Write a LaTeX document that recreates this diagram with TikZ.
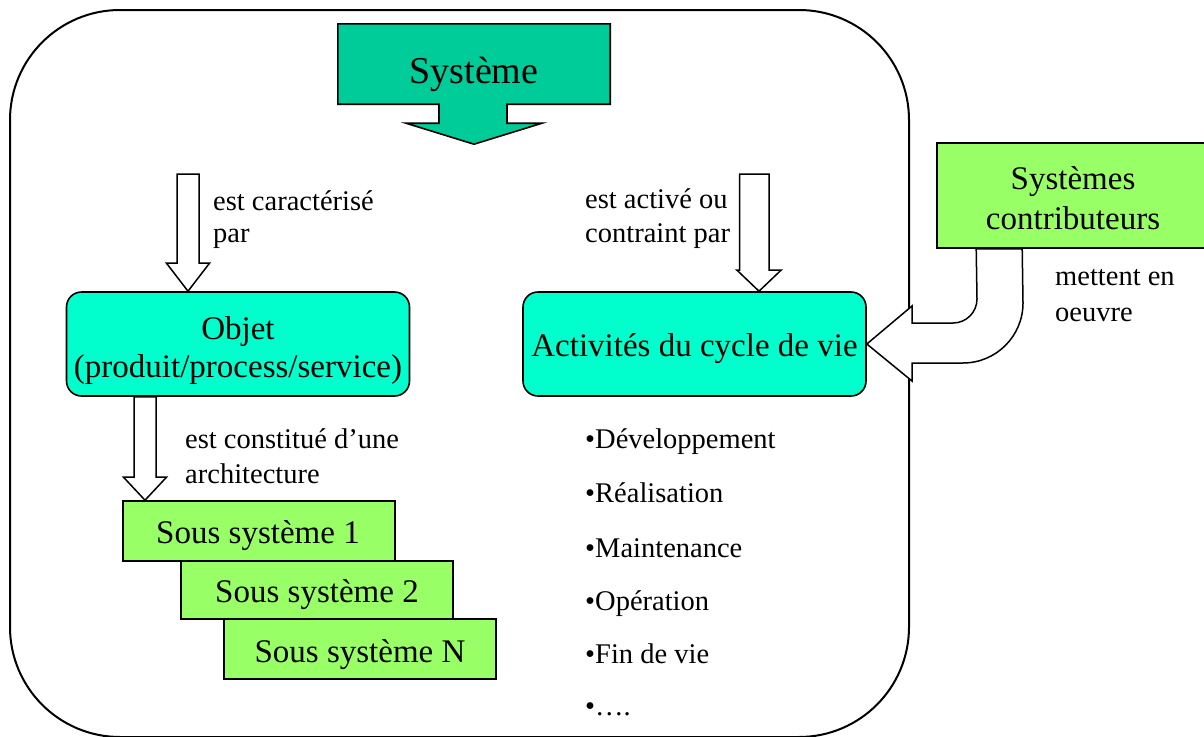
\documentclass[tikz,border=0pt]{standalone}
\usepackage{fontspec}
\setmainfont{Liberation Serif}
\usetikzlibrary{calc}
\definecolor{systeal}{RGB}{0,204,153}
\definecolor{objaqua}{RGB}{0,255,204}
\definecolor{subgreen}{RGB}{153,255,102}
\begin{document}
\begin{tikzpicture}[x=1pt,y=-1pt,
  frame/.style={draw=black, line width=2pt, rounded corners=110pt},
  boxline/.style={draw=black, line width=1.6pt},
  aquabox/.style={boxline, fill=objaqua, rounded corners=15pt, minimum width=343pt, minimum height=104pt, inner sep=0pt},
  greenbox/.style={boxline, fill=subgreen, minimum width=272pt, inner sep=0pt},
  bigtxt/.style={font=\fontsize{38}{46}\selectfont, anchor=base, inner sep=0pt},
  boxtxt/.style={font=\fontsize{33}{40}\selectfont, anchor=base, inner sep=0pt},
  lbl/.style={font=\fontsize{28.5}{34}\selectfont, anchor=base west, inner sep=0pt},
  blockarrow/.style={draw=black, line width=1.5pt, fill=white, line join=miter},
]
\useasboundingbox (0,0) rectangle (1204,736);

% outer rounded frame
\draw[frame] (10,10) rectangle (909,737);

% Système: header box merged with its downward arrow
\node[minimum width=272pt, minimum height=80pt, inner sep=0pt] (sys) at (474,64) {};
\draw[boxline, fill=systeal] (sys.south west) -- (sys.north west) -- (sys.north east) -- (sys.south east)
  -- ($(sys.south)+(33,0)$) -- ($(sys.south)+(33,19)$) -- ($(sys.south)+(68,19)$) -- ($(sys.south)+(0,40)$)
  -- ($(sys.south)+(-68,19)$) -- ($(sys.south)+(-35,19)$) -- ($(sys.south)+(-35,0)$) -- cycle;
\node[bigtxt] (systxt) at (474,83) {Système};

% main boxes
\node[aquabox] (obj) at (238,344) {};
\node[boxtxt] (objt1) at (238,339) {Objet};
\node[boxtxt] (objt2) at (238,377) {(produit/process/service)};

\node[aquabox] (act) at (694.5,344) {};
\node[boxtxt] (actt) at (694.5,356) {Activités du cycle de vie};

\node[boxline, fill=subgreen, minimum width=271pt, minimum height=105pt, inner sep=0pt] (contrib) at (1072.5,195.5) {};
\node[boxtxt] (contribt1) at (1073,189) {Systèmes};
\node[boxtxt] (contribt2) at (1073,229) {contributeurs};

% stacked sub-systems
\node[greenbox, minimum height=60pt] (ss1) at (259,531) {};
\node[boxtxt] (ss1t) at (258,543) {Sous système 1};
\node[greenbox, minimum height=58pt] (ss2) at (317,590) {};
\node[boxtxt] (ss2t) at (317,602) {Sous système 2};
\node[greenbox, minimum height=60pt] (ssN) at (360,649) {};
\node[boxtxt] (ssNt) at (360,662) {Sous système N};

% hollow arrow: Système -> Objet
\coordinate (a1top) at (188,174);
\coordinate (a1tip) at (a1top |- obj.north);
\draw[blockarrow] ($(a1top)+(-11,0)$) -- ($(a1tip)+(-11,-28)$) -- ($(a1tip)+(-21.5,-28)$) -- (a1tip)
  -- ($(a1tip)+(21.5,-28)$) -- ($(a1tip)+(11,-28)$) -- ($(a1top)+(11,0)$) -- cycle;
\node[lbl] (l1a) at (213,210) {est caractérisé};
\node[lbl] (l1b) at (213,242) {par};

% hollow arrow: Système -> Activités
\coordinate (a2top) at (759,174);
\coordinate (a2tip) at (a2top |- act.north);
\draw[blockarrow] ($(a2top)+(-19.5,0)$) -- ($(a2tip)+(-19.5,-21)$) -- ($(a2tip)+(-22,-21)$) -- (a2tip)
  -- ($(a2tip)+(22,-21)$) -- ($(a2tip)+(10,-21)$) -- ($(a2top)+(10,0)$) -- cycle;
\node[lbl] (l2a) at (585,208) {est activé ou};
\node[lbl] (l2b) at (585,242) {contraint par};

% hollow arrow: Objet -> sub-systems
\coordinate (a3x) at (145,0);
\coordinate (a3top) at (a3x |- obj.south);
\coordinate (a3tip) at (a3x |- ss1.north);
\draw[blockarrow] ($(a3top)+(-11,0)$) -- ($(a3tip)+(-11,-23)$) -- ($(a3tip)+(-21.5,-23)$) -- (a3tip)
  -- ($(a3tip)+(21.5,-23)$) -- ($(a3tip)+(11,-23)$) -- ($(a3top)+(11,0)$) -- cycle;
\node[lbl] (l3a) at (185,448) {est constitué d’une};
\node[lbl] (l3b) at (185,483) {architecture};

% U-turn arrow: Systèmes contributeurs -> Activités
\coordinate (u1) at ($(contrib.south west)+(40,0)$);
\coordinate (u2) at ($(contrib.south west)+(86,0)$);
\draw[blockarrow] (u1) -- (977,299) .. controls (977,312.25) and (966.25,323) .. (953,323)
  -- (912,323) -- (912,306) -- (act.east) -- (912,381) -- (912,363) -- (963,363)
  .. controls (996.1,363) and (1023,336.1) .. (1023,303) -- (u2) -- cycle;
\node[lbl] (l4a) at (1055,285) {mettent en};
\node[lbl] (l4b) at (1055,321) {oeuvre};

% life-cycle activities
\node[lbl] (b1) at (585,448) {•Développement};
\node[lbl] (b2) at (585,502) {•Réalisation};
\node[lbl] (b3) at (585,557) {•Maintenance};
\node[lbl] (b4) at (585,610) {•Opération};
\node[lbl] (b5) at (585,663) {•Fin de vie};
\node[lbl] (b6) at (585,715) {•….};
\end{tikzpicture}
\end{document}
